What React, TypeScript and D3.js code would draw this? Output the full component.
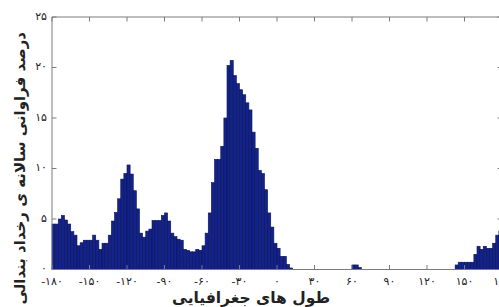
import React from "react";
import * as d3 from "d3";

// Histogram: annual blocking frequency (%) per 2.5° longitude bin, from -180 to 180
const binStart = -180;
const binWidth = 2.5;
const binValues: number[] = [
  4.5, 4.5, 5.0, 5.35, 4.9, 4.5, 3.75, 3.4, 2.35, 2.65,
  2.9, 2.9, 2.9, 3.4, 2.9, 2.0, 2.6, 2.6, 3.4, 4.8,
  5.65, 7.0, 8.95, 9.5, 10.35, 9.45, 7.8, 6.0, 3.6, 3.2,
  3.8, 4.0, 4.85, 4.85, 4.85, 5.35, 5.6, 4.8, 3.6, 3.25,
  3.0, 2.9, 2.0, 1.9, 1.75, 1.75, 2.0, 1.9, 2.35, 3.6,
  5.6, 8.6, 10.9, 10.9, 12.2, 15.0, 20.2, 20.7, 19.2, 18.4,
  17.8, 17.3, 16.5, 15.8, 13.6, 12.0, 9.8, 9.5, 7.9, 5.6,
  4.2, 2.6, 2.1, 1.3, 1.3, 0.5, 0.15, 0, 0, 0,
  0, 0, 0, 0, 0, 0, 0, 0, 0, 0,
  0, 0, 0, 0, 0, 0, 0.45, 0.45, 0.2, 0,
  0, 0, 0, 0, 0, 0, 0, 0, 0, 0,
  0, 0, 0, 0, 0, 0, 0, 0, 0, 0,
  0, 0, 0, 0, 0, 0, 0, 0, 0, 0.45,
  0.72, 0.72, 0.72, 0.72, 0.72, 1.5, 2.3, 2.0, 2.3, 2.1,
  2.1, 2.6, 3.4, 3.8,
];

const xTicks = [-180, -150, -120, -90, -60, -30, 0, 30, 60, 90, 120, 150, 180];
const xTickLabels = ["-۱۸۰", "-۱۵۰", "-۱۲۰", "-۹۰", "-۶۰", "-۳۰", "۰", "۳۰", "۶۰", "۹۰", "۱۲۰", "۱۵۰", "۱۸۰"];
const yTicks = [0, 5, 10, 15, 20, 25];
const yTickLabels = ["۰", "۵", "۱۰", "۱۵", "۲۰", "۲۵"];

const xLabel = "طول های جغرافیایی";
const yLabel = "درصد فراوانی سالانه ی رخداد بندالی";

export default function App() {
  const W = 499;
  const H = 307;
  const left = 52;
  const right = 502;
  const top = 17;
  const bottom = 269.5;

  const x = d3.scaleLinear().domain([-180, 180]).range([left, right]);
  const y = d3.scaleLinear().domain([0, 25]).range([bottom, top]);

  const axisColor = "#7a7a7a";
  const font = "'DejaVu Sans', sans-serif";
  const tickLen = 4.5;

  return (
    <svg
      width={W}
      height={H}
      style={{ position: "absolute", left: 0, top: 0, background: "#fff" }}
    >
      {binValues.map((v, i) => {
        if (v <= 0) return null;
        const x0 = x(binStart + i * binWidth);
        const x1 = x(binStart + (i + 1) * binWidth);
        return (
          <rect
            key={i}
            x={x0}
            y={y(v)}
            width={x1 - x0}
            height={bottom - y(v)}
            fill="#13238c"
            stroke="#0a1250"
            strokeWidth={0.6}
          />
        );
      })}

      {/* axes box */}
      <line x1={left} x2={left} y1={top} y2={bottom} stroke={axisColor} strokeWidth={1} />
      <line x1={right} x2={right} y1={top} y2={bottom} stroke={axisColor} strokeWidth={1} />
      <line x1={left} x2={right} y1={top} y2={top} stroke={axisColor} strokeWidth={1} />
      <line x1={left} x2={right} y1={bottom} y2={bottom} stroke={axisColor} strokeWidth={1} />

      {/* x ticks */}
      {xTicks.map((t, i) => (
        <g key={"xt" + i}>
          <line x1={x(t)} x2={x(t)} y1={bottom} y2={bottom - tickLen} stroke={axisColor} />
          <line x1={x(t)} x2={x(t)} y1={top} y2={top + tickLen} stroke={axisColor} />
          <text
            x={x(t)}
            y={284.5}
            textAnchor="middle"
            fontFamily={font}
            fontSize={11}
            fill="#222"
          >
            {xTickLabels[i]}
          </text>
        </g>
      ))}

      {/* y ticks */}
      {yTicks.map((t, i) => (
        <g key={"yt" + i}>
          <line x1={left} x2={left + tickLen} y1={y(t)} y2={y(t)} stroke={axisColor} />
          <line x1={right} x2={right - tickLen} y1={y(t)} y2={y(t)} stroke={axisColor} />
          <text
            x={left - 5}
            y={y(t) + 2.5}
            textAnchor="end"
            fontFamily={font}
            fontSize={11}
            fill="#222"
          >
            {yTickLabels[i]}
          </text>
        </g>
      ))}

      <text
        x={330}
        y={302.5}
        textAnchor="start"
        direction="rtl"
        fontFamily={font}
        fontSize={15.5}
        fontWeight="bold"
        fill="#222"
      >
        {xLabel}
      </text>

      <text
        transform={`translate(25, 32) rotate(-90)`}
        textAnchor="start"
        direction="rtl"
        fontFamily={font}
        fontSize={15}
        fontWeight="bold"
        fill="#222"
      >
        {yLabel}
      </text>
    </svg>
  );
}
